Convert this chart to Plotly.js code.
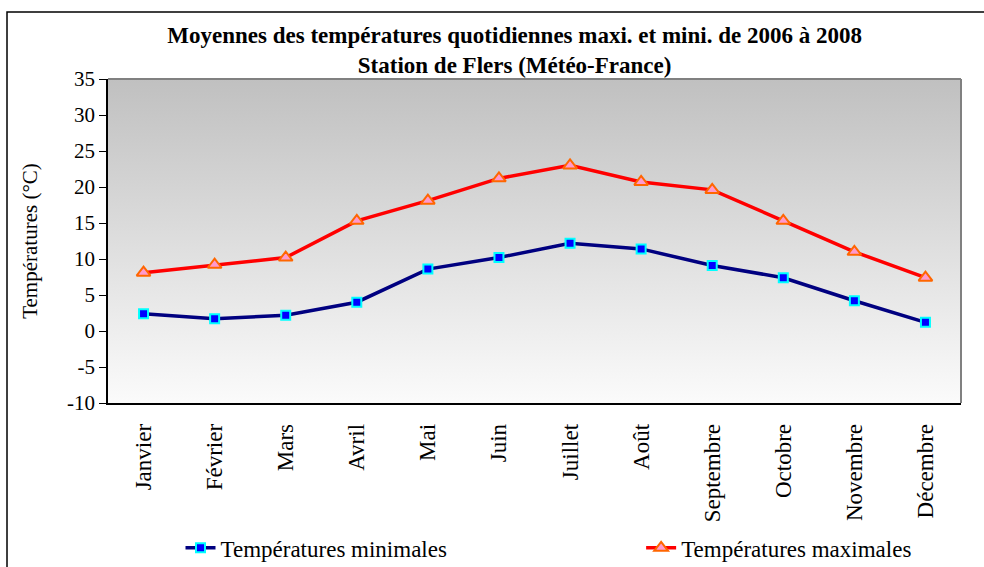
<!DOCTYPE html>
<html>
<head>
<meta charset="utf-8">
<script src="https://cdn.plot.ly/plotly-3.0.1.min.js"></script>
<style>body{margin:0;background:#fff}</style>
</head>
<body>
<div id="chart" style="width:984px;height:567px"></div>
<script>
var mois = ['Janvier', 'Février', 'Mars', 'Avril', 'Mai', 'Juin', 'Juillet', 'Août', 'Septembre', 'Octobre', 'Novembre', 'Décembre'];
var tempMin = [2.4, 1.7, 2.2, 4.0, 8.6, 10.2, 12.2, 11.4, 9.1, 7.4, 4.2, 1.2];
var tempMax = [8.1, 9.2, 10.2, 15.3, 18.1, 21.2, 23.0, 20.7, 19.6, 15.3, 11.0, 7.4];
var yTicks = [-10, -5, 0, 5, 10, 15, 20, 25, 30, 35];
var yLabels = ['-10', '-5', '0', '5', '10', '15', '20', '25', '30', '35'];

var serif = 'Liberation Serif, Times New Roman, serif';

// degrade gris -> blanc du fond de la zone de tracé
var grad = '<svg xmlns="http://www.w3.org/2000/svg" width="10" height="100" preserveAspectRatio="none">' +
    '<defs><linearGradient id="g" x1="0" y1="0" x2="0" y2="1">' +
    '<stop offset="0" stop-color="#c0c0c0"/><stop offset="1" stop-color="#fbfbfb"/></linearGradient></defs>' +
    '<rect width="10" height="100" fill="url(#g)"/></svg>';

var trace1 = {
    x: mois,
    y: tempMin,
    type: 'scatter',
    mode: 'lines+markers',
    name: 'Températures minimales',
    legend: 'legend',
    showlegend: true,
    line: {color: '#000080', width: 3.5},
    marker: {symbol: 'square', size: 9, color: '#0000ff', line: {color: '#00ffff', width: 2}}
};

var trace2 = {
    x: mois,
    y: tempMax,
    type: 'scatter',
    mode: 'lines+markers',
    name: 'Températures maximales',
    legend: 'legend2',
    showlegend: true,
    line: {color: '#ff0000', width: 3.5},
    marker: {symbol: 'triangle-up', size: 12, color: '#ff99cc', line: {color: '#ff6600', width: 2}}
};

var legendStyle = {
    orientation: 'h',
    xanchor: 'left',
    yanchor: 'middle',
    y: -0.447,
    font: {family: serif, size: 23},
    bgcolor: 'rgba(0,0,0,0)'
};

var layout = {
    width: 984,
    height: 567,
    showlegend: true,
    margin: {l: 108, r: 23, t: 79, b: 164, autoexpand: false},
    paper_bgcolor: '#ffffff',
    plot_bgcolor: 'rgba(0,0,0,0)',
    font: {family: serif, size: 20, color: '#000'},
    title: {
        text: '<b>Moyennes des températures quotidiennes maxi. et mini. de 2006 à 2008<br>Station de Flers (Météo-France)</b>',
        font: {family: serif, size: 23, color: '#000'},
        x: 0.523, xanchor: 'center',
        y: 0.924, yanchor: 'top'
    },
    xaxis: {
        type: 'category',
        range: [-0.5, 11.5],
        tickangle: -90,
        showgrid: false,
        showline: true,
        linecolor: '#000',
        linewidth: 1.5,
        ticks: '',
        ticklabelstandoff: 10,
        tickfont: {family: serif, size: 23},
        zeroline: false,
        automargin: false
    },
    yaxis: {
        range: [-10, 35],
        tickvals: yTicks,
        ticktext: yLabels,
        showgrid: false,
        zeroline: false,
        showline: true,
        linecolor: '#000',
        linewidth: 1.5,
        ticks: 'outside',
        ticklen: 7,
        tickcolor: '#000',
        tickfont: {family: serif, size: 21},
        automargin: false,
        title: {text: 'Températures (°C)', font: {family: serif, size: 21}, standoff: 24}
    },
    legend: Object.assign({x: 0.085}, legendStyle),
    legend2: Object.assign({x: 0.625}, legendStyle),
    images: [{
        source: 'data:image/svg+xml;charset=utf-8,' + encodeURIComponent(grad),
        xref: 'paper', yref: 'paper',
        x: 0, y: 1, sizex: 1, sizey: 1,
        sizing: 'stretch',
        xanchor: 'left', yanchor: 'top',
        layer: 'below'
    }],
    shapes: [
        // bord gris haut/droite de la zone de tracé
        {type: 'line', xref: 'paper', yref: 'paper', x0: 0, x1: 1, y0: 1, y1: 1, line: {color: '#808080', width: 2}},
        {type: 'line', xref: 'paper', yref: 'paper', x0: 1, x1: 1, y0: 0, y1: 1, line: {color: '#808080', width: 2}},
        // cadre extérieur
        {type: 'rect', xref: 'paper', yref: 'paper', x0: -0.1184, x1: 1.2, y0: -0.7, y1: 1.2068, line: {color: '#000', width: 1.5}, fillcolor: 'rgba(0,0,0,0)'}
    ]
};

Plotly.newPlot('chart', [trace1, trace2], layout, {displayModeBar: false});
</script>
</body>
</html>
